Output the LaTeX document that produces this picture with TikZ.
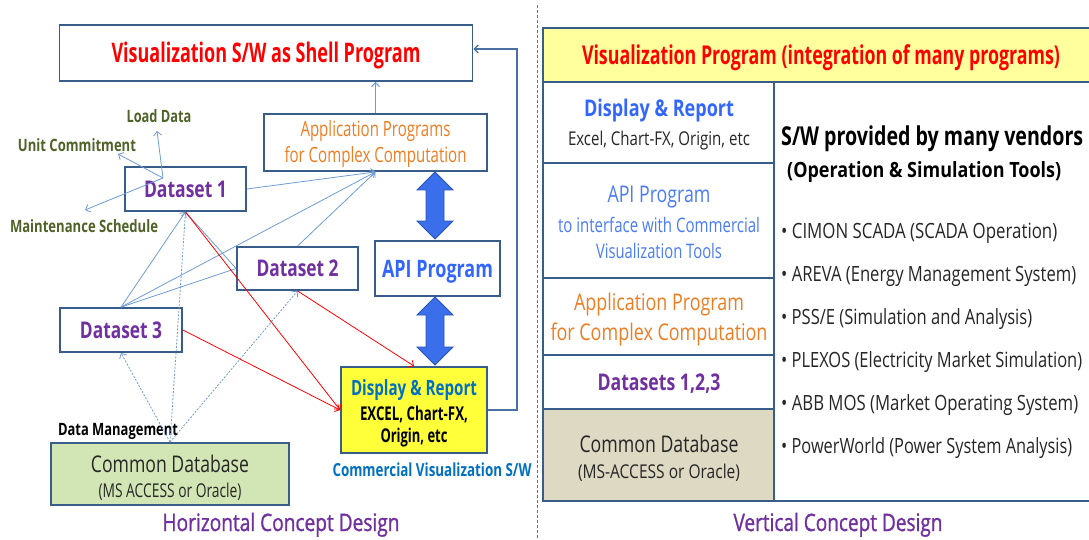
\documentclass[tikz,border=0pt]{standalone}
\usepackage{fontspec}
\setmainfont{Open Sans}
\newfontfamily\semib[FakeBold=1.3]{Open Sans}
\usepackage{graphicx}
\usetikzlibrary{arrows.meta,calc}
\definecolor{bord}{HTML}{385D8A}
\definecolor{lnkc}{HTML}{6F9BD4}
\definecolor{redc}{HTML}{FF0000}
\definecolor{purp}{HTML}{7030A0}
\definecolor{olive}{HTML}{4F6228}
\definecolor{orng}{HTML}{EE7D22}
\definecolor{blueA}{HTML}{3366FF}
\definecolor{blueL}{HTML}{4A7CF7}
\definecolor{blueB}{HTML}{0070C0}
\definecolor{dblc}{HTML}{3A6EEA}
\definecolor{dblb}{HTML}{2A55B5}
\definecolor{dbg}{HTML}{D2E6B5}
\definecolor{tan}{HTML}{DDD9C3}
\definecolor{yelA}{HTML}{FFFF3A}
\definecolor{yelB}{HTML}{FFFF9E}
\definecolor{sepc}{HTML}{7F5FA8}
\definecolor{dark}{HTML}{262626}
\newcommand{\fitt}[3]{\resizebox{#1pt}{\height}{\fontsize{#2pt}{#2pt}\selectfont #3}}
\newcommand{\dblarr}[3]{%
  \fill[dblc, draw=dblb, line width=0.8pt] (#1,#2) -- (#1+18,#2+18) -- (#1+9,#2+18) -- (#1+9,#3-18) -- (#1+18,#3-18) -- (#1,#3) -- (#1-18,#3-18) -- (#1-9,#3-18) -- (#1-9,#2+18) -- (#1-18,#2+18) -- cycle;}
\tikzset{
  box/.style={draw=bord, line width=1.8pt, inner sep=0pt, fill=white},
  cell/.style={draw=bord, line width=1.4pt, inner sep=0pt, fill=white},
  txt/.style={inner sep=0pt, anchor=base},
  txtw/.style={inner sep=0pt, anchor=base west},
  lnk/.style={draw=lnkc, line width=0.8pt},
  dotl/.style={draw=lnkc, line width=0.8pt, dash pattern=on 2pt off 1.5pt},
  rline/.style={draw=redc, line width=0.8pt},
  tip/.style={-{Straight Barb[length=4pt,width=8pt]}}
}
\begin{document}
\begin{tikzpicture}[x=1pt,y=-1pt]
\useasboundingbox (0,0) rectangle (1089,540);
% ---------- left: horizontal concept ----------
\node[box, minimum width=413pt, minimum height=56pt] (shell) at (266,53) {};
\node[box, minimum width=223pt, minimum height=57pt] (app) at (375.5,142.5) {};
\node[box, minimum width=121pt, minimum height=44pt] (ds1) at (185.5,189) {};
\node[box, minimum width=121pt, minimum height=43pt] (ds2) at (297.5,268.5) {};
\node[box, minimum width=122pt, minimum height=44pt] (ds3) at (121,330) {};
\node[box, minimum width=125pt, minimum height=55pt] (api) at (437.5,268.5) {};
\node[box, fill=yelA, minimum width=146pt, minimum height=86pt] (disp) at (414,410) {};
\node[box, fill=dbg, minimum width=238pt, minimum height=62pt] (db) at (170,474) {};

\node[txt] (tshell) at (266,63) {\fitt{309}{27}{\bfseries\color{redc}Visualization S/W as Shell Program}};
\node[txt] (tapp1) at (375.5,137) {\fitt{150}{21}{\color{orng}Application Programs}};
\node[txt] (tapp2) at (375.5,163) {\fitt{182}{21}{\color{orng}for Complex Computation}};
\node[txt] (tds1) at (185.5,197) {\fitt{83}{23}{\bfseries\color{purp}Dataset 1}};
\node[txt] (tds2) at (297.5,276.5) {\fitt{82}{23}{\bfseries\color{purp}Dataset 2}};
\node[txt] (tds3) at (121,338) {\fitt{82}{23}{\bfseries\color{purp}Dataset 3}};
\node[txt] (tapi) at (437.5,277) {\fitt{111}{24}{\bfseries\color{blueA}API Program}};
\node[txt] (tdisp1) at (414,395) {\fitt{126}{21}{\bfseries\color{blueB}Display \& Report}};
\node[txt] (tdisp2) at (414,420) {\fitt{108}{19}{\bfseries EXCEL, Chart-FX,}};
\node[txt] (tdisp3) at (414,442) {\fitt{67}{19}{\bfseries Origin, etc}};
\node[txt] (tdb1) at (170,472) {\fitt{158}{23}{\color{dark}Common Database}};
\node[txt] (tdb2) at (170,497) {\fitt{143}{19}{\color{dark}(MS ACCESS or Oracle)}};

\node[txt] (lload) at (159,123) {\fitt{65}{17}{\bfseries\color{olive}Load Data}};
\node[txt] (lunit) at (77,152) {\fitt{118}{17}{\bfseries\color{olive}Unit Commitment}};
\node[txt] (lmaint) at (84,233) {\fitt{148}{17}{\bfseries\color{olive}Maintenance Schedule}};
\node[txt] (ldm) at (118,435) {\fitt{120}{17}{\bfseries Data Management}};
\node[txt] (lcvs) at (432,476) {\fitt{199}{18}{\bfseries\color{blueB}Commercial Visualization S/W}};
\node[txt] (lhcd) at (281,531) {\fitt{237}{24}{\semib\color{purp}Horizontal Concept Design}};

\coordinate (hub) at (163,178);
\coordinate (tload) at (157,131);
\coordinate (tunit) at (118,154);
\coordinate (tmaint) at (85,210);

% double arrows
\dblarr{435}{172}{239}
\dblarr{435}{297}{365}

% thin blue connectors
\draw[lnk, tip] (hub) -- (tload);
\draw[lnk, tip] (hub) -- (tunit);
\draw[lnk, tip] (hub) -- (tmaint);
\draw[lnk, tip] (ds1.east) -- (app.south);
\draw[lnk, tip] (ds2.north) -- (app.south);
\draw[lnk, tip] (ds3.north) -- (app.south);
\draw[lnk, tip] (ds3.north) -- (ds1.south);
\draw[lnk] (ds3.north) -- (ds2.west);
\draw[lnk] (ds1.south) -- (ds2.west);
\draw[dotl, tip] (db.north) -- (ds1.south);
\draw[dotl, tip] (db.north) -- (ds3.south);
\draw[dotl, tip] (db.north) -- (ds2.south);
% red connectors
\draw[rline, tip] (ds1.south) -- (disp.west);
\draw[rline, tip] (ds3.east) -- (disp.west);
\draw[rline, tip] (ds2.south) -- (disp.north);
% to shell
\draw[lnk, line width=1pt, tip] (app.north) -- (app.north |- shell.south);
\draw[draw=bord!70!lnkc, line width=1.2pt, tip] (disp.east) -- ++(29,0) |- ([yshift=4pt]shell.east);

% separator
\draw[sepc, line width=1pt, dash pattern=on 3pt off 2pt] (537,5) -- (537,540);

% ---------- right: vertical concept ----------
\node[cell, fill=yelB, minimum width=552pt, minimum height=54pt] (vtop) at (819,55) {};
\node[cell, minimum width=231pt, minimum height=81pt] (c1) at (658.5,122.5) {};
\node[cell, minimum width=231pt, minimum height=115pt] (c2) at (658.5,220.5) {};
\node[cell, minimum width=231pt, minimum height=77pt] (c3) at (658.5,316.5) {};
\node[cell, minimum width=231pt, minimum height=54pt] (c4) at (658.5,382) {};
\node[cell, fill=tan, minimum width=231pt, minimum height=92pt] (c5) at (658.5,455) {};
\node[cell, minimum width=321pt, minimum height=419pt] (cr) at (934.5,291.5) {};

\node[txt] (tvtop) at (821,65) {\fitt{478}{26}{\bfseries\color{redc}Visualization Program (integration of many programs)}};
\node[txt] (tc1a) at (659,117) {\fitt{150}{23}{\bfseries\color{blueA}Display \& Report}};
\node[txt] (tc1b) at (659,146) {\fitt{182}{19}{\color{dark}Excel, Chart-FX, Origin, etc}};
\node[txt] (tc2a) at (659,203) {\fitt{103}{23}{\color{blueL}API Program}};
\node[txt] (tc2b) at (659,232) {\fitt{202}{20}{\color{blueL}to interface with Commercial}};
\node[txt] (tc2c) at (659,258) {\fitt{126}{20}{\color{blueL}Visualization Tools}};
\node[txt] (tc3a) at (659,310) {\fitt{170}{23}{\color{orng}Application Program}};
\node[txt] (tc3b) at (659,340) {\fitt{217}{23}{\color{orng}for Complex Computation}};
\node[txt] (tc4) at (659,390) {\fitt{123}{23}{\bfseries\color{purp}Datasets 1,2,3}};
\node[txt] (tc5a) at (659,452) {\fitt{159}{23}{\color{dark}Common Database}};
\node[txt] (tc5b) at (659,478) {\fitt{162}{19}{\color{dark}(MS-ACCESS or Oracle)}};

\node[txtw] (tsw1) at (781,146) {\fitt{302}{26}{\bfseries S/W provided by many vendors}};
\node[txtw] (tsw2) at (787,178) {\fitt{274}{21}{\bfseries (Operation \& Simulation Tools)}};
\node[txtw] (b1) at (781,238) {\fitt{276}{21}{\color{dark}• CIMON SCADA (SCADA Operation)}};
\node[txtw] (b2) at (781,281) {\fitt{295}{21}{\color{dark}• AREVA (Energy Management System)}};
\node[txtw] (b3) at (781,324) {\fitt{251}{21}{\color{dark}• PSS/E (Simulation and Analysis)}};
\node[txtw] (b4) at (781,367) {\fitt{301}{21}{\color{dark}• PLEXOS (Electricity Market Simulation)}};
\node[txtw] (b5) at (781,410) {\fitt{297}{21}{\color{dark}• ABB MOS (Market Operating System)}};
\node[txtw] (b6) at (781,453) {\fitt{291}{21}{\color{dark}• PowerWorld (Power System Analysis)}};

\node[txt] (lvcd) at (838,531) {\fitt{209}{24}{\semib\color{purp}Vertical Concept Design}};
\end{tikzpicture}
\end{document}
